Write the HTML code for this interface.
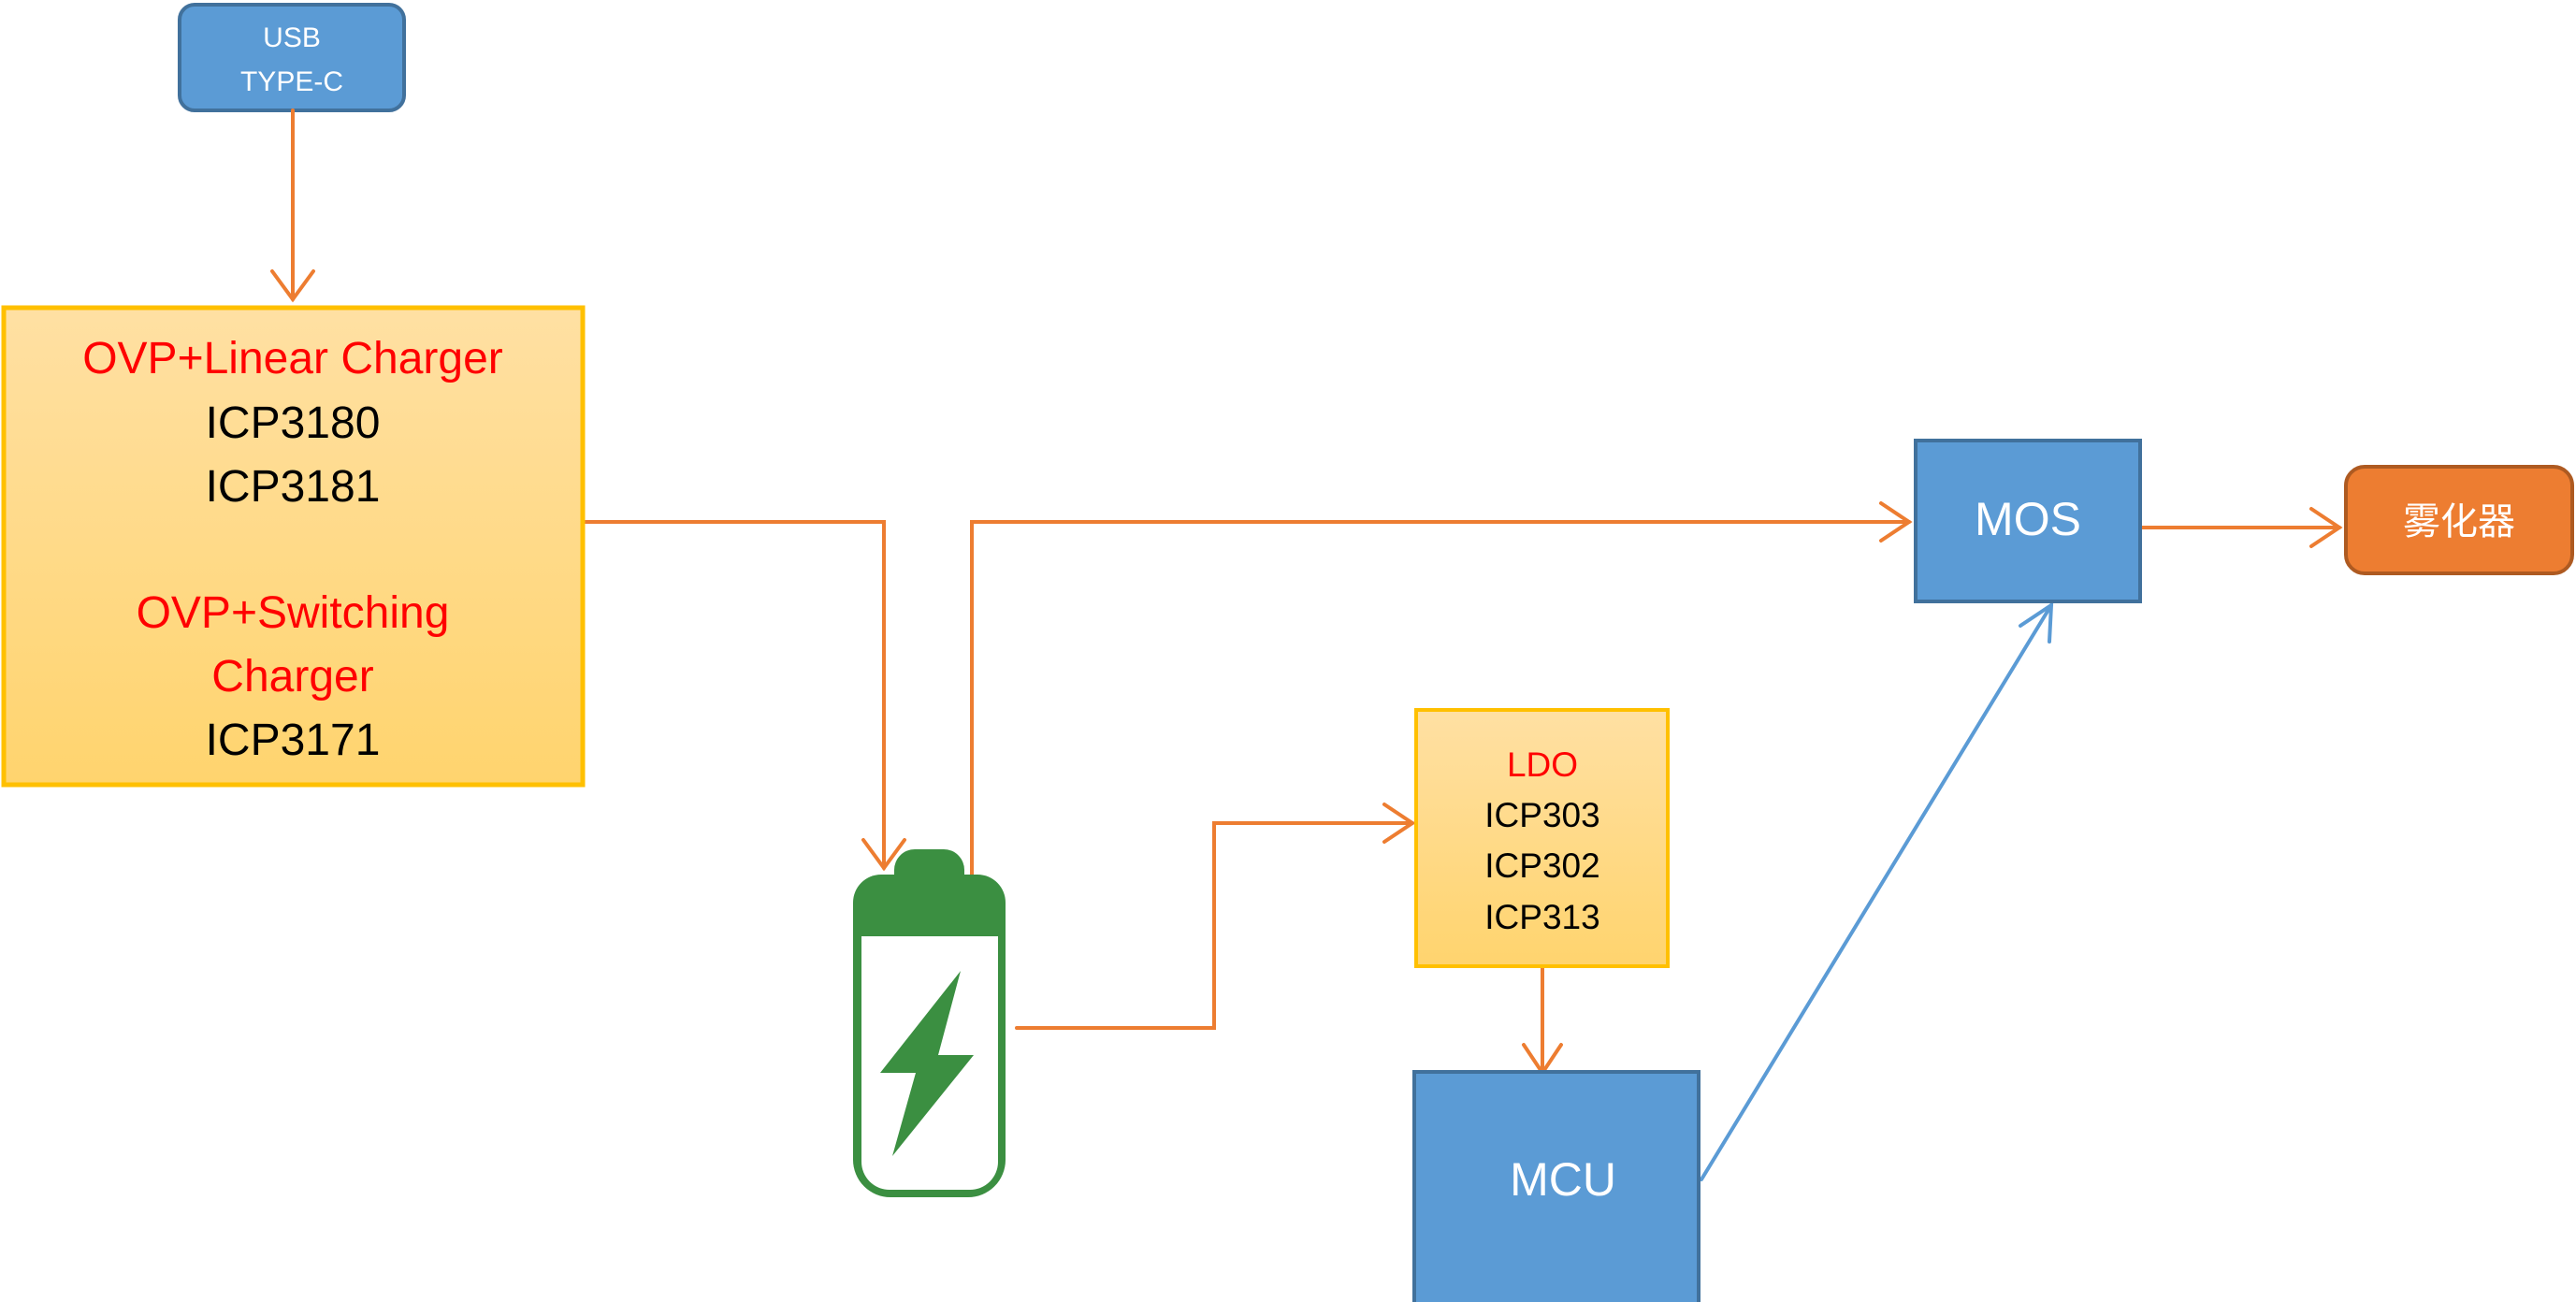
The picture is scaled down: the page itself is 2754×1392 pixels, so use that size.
<!DOCTYPE html>
<html><head><meta charset="utf-8"><style>
html,body{margin:0;padding:0;background:#fff;}
svg{display:block;}
text{font-family:"Liberation Sans","Noto Sans CJK SC",sans-serif;}
</style></head><body>
<svg width="2754" height="1392" viewBox="0 0 2754 1392" xmlns="http://www.w3.org/2000/svg">
<defs>
<linearGradient id="yg" x1="0" y1="0" x2="0" y2="1">
<stop offset="0" stop-color="#ffe0a3"/><stop offset="1" stop-color="#ffd46e"/>
</linearGradient>
</defs>
<!-- USB -->
<rect x="192" y="5" width="240" height="113" rx="16" fill="#5b9bd5" stroke="#41719c" stroke-width="4"/>
<text x="312" y="50" font-size="30" fill="#fff" text-anchor="middle">USB</text>
<text x="312" y="97" font-size="30" fill="#fff" text-anchor="middle">TYPE-C</text>

<g stroke="#ed7d31" stroke-width="4" fill="none" stroke-linecap="round">
<line x1="313" y1="118" x2="313" y2="320"/>
<polyline points="291,290 313,320 335,290"/>
<polyline points="623,558 945,558 945,928"/>
<polyline points="923,898 945,928 967,898"/>
<polyline points="1039,935 1039,558 2041,558"/>
<polyline points="2011,538 2041,558 2011,578"/>
<line x1="2288" y1="564" x2="2501" y2="564"/>
<polyline points="2471,544 2501,564 2471,584"/>
<polyline points="1087,1099 1298,1099 1298,880 1510,880"/>
<polyline points="1480,860 1510,880 1480,900"/>
<line x1="1649" y1="1033" x2="1649" y2="1147"/>
<polyline points="1629,1117 1649,1147 1669,1117"/>
</g>
<g stroke="#5b9bd5" stroke-width="4" fill="none" stroke-linecap="round">
<line x1="1819" y1="1261" x2="2193" y2="647"/>
<polyline points="2160,669 2193,647 2191,686"/>
</g>

<!-- OVP box -->
<rect x="4" y="329" width="619" height="510" fill="url(#yg)" stroke="#ffc000" stroke-width="5"/>
<g font-size="48" text-anchor="middle">
<text x="313" y="399" fill="#ff0000">OVP+Linear Charger</text>
<text x="313" y="468" fill="#000">ICP3180</text>
<text x="313" y="536" fill="#000">ICP3181</text>
<text x="313" y="671" fill="#ff0000">OVP+Switching</text>
<text x="313" y="739" fill="#ff0000">Charger</text>
<text x="313" y="807" fill="#000">ICP3171</text>
</g>

<!-- Battery -->
<g fill="#3b8f41">
<rect x="956" y="908" width="75" height="50" rx="22"/>
<path d="M912,965 a30,30 0 0 1 30,-30 h103 a30,30 0 0 1 30,30 v275 a40,40 0 0 1 -40,40 h-83 a40,40 0 0 1 -40,-40 z"/>
</g>
<path d="M921,1001 h146 v241 a30,30 0 0 1 -30,30 h-86 a30,30 0 0 1 -30,-30 z" fill="#fff"/>
<polygon points="1027,1038 941,1147 979,1147 954,1236 1041,1128 1003,1128" fill="#3b8f41"/>

<!-- MOS -->
<rect x="2048" y="471" width="240" height="172" fill="#5b9bd5" stroke="#41719c" stroke-width="4"/>
<text x="2168" y="572" font-size="50" fill="#fff" text-anchor="middle">MOS</text>

<!-- Atomizer -->
<rect x="2508" y="499" width="242" height="114" rx="20" fill="#ed7d31" stroke="#ae5a21" stroke-width="4"/>
<text x="2629" y="571" font-size="40" fill="#fff" text-anchor="middle">雾化器</text>

<!-- LDO -->
<rect x="1514" y="759" width="269" height="274" fill="url(#yg)" stroke="#ffc000" stroke-width="4"/>
<g font-size="37" text-anchor="middle">
<text x="1649" y="830" fill="#ff0000">LDO</text>
<text x="1649" y="884" fill="#000">ICP303</text>
<text x="1649" y="938" fill="#000">ICP302</text>
<text x="1649" y="993" fill="#000">ICP313</text>
</g>

<!-- MCU -->
<rect x="1512" y="1146" width="304" height="248" fill="#5b9bd5" stroke="#41719c" stroke-width="4"/>
<text x="1671" y="1278" font-size="50" fill="#fff" text-anchor="middle">MCU</text>
</svg>
</body></html>
